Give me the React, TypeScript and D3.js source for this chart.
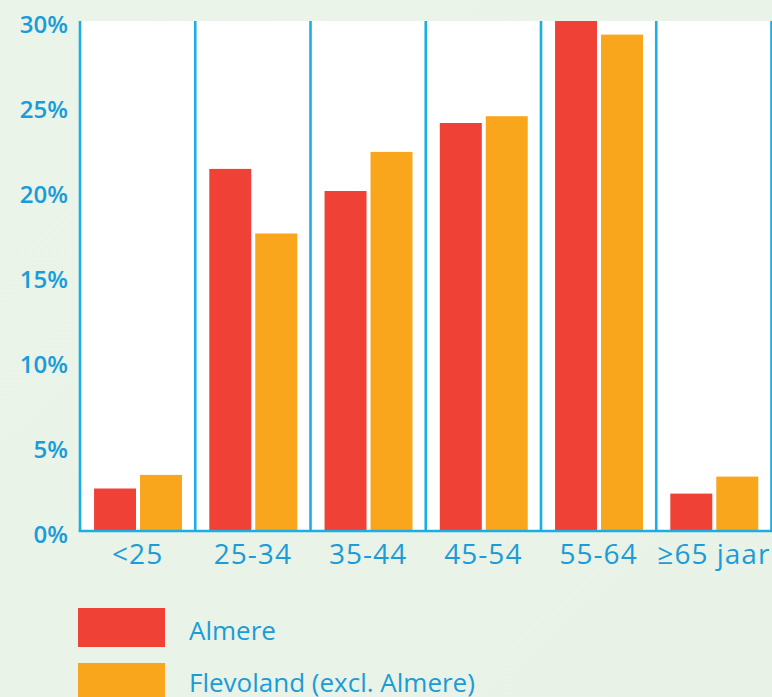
import { FC } from "react";
import * as d3 from "d3";

const WIDTH = 772;
const HEIGHT = 697;
const BLUE = "#1a9cd8";
const LINE = "#19aee6";

const categories = ["<25", "25-34", "35-44", "45-54", "55-64", "≥65 jaar"];
const series = ["Almere", "Flevoland (excl. Almere)"];
const colors = ["#ef4136", "#f9a61c"];
const almere = [2.5, 21.3, 20.0, 24.0, 30.2, 2.2];
const flevoland = [3.3, 17.5, 22.3, 24.4, 29.2, 3.2];
const yTicks = [0, 5, 10, 15, 20, 25, 30];

const margin = { top: 21, left: 80, bottom: 531, right: 771.5 };

const App: FC = () => {
  const values = [almere, flevoland];

  const x0 = d3
    .scaleBand<string>()
    .domain(categories)
    .range([margin.left, margin.right])
    .padding(0);

  const x1 = d3
    .scaleBand<string>()
    .domain(series)
    .range([x0.bandwidth() * 0.122, x0.bandwidth() * 0.885])
    .paddingInner(0.087);

  const y = d3.scaleLinear().domain([0, 30]).range([margin.bottom, margin.top]);

  return (
    <svg
      width={WIDTH}
      height={HEIGHT}
      style={{ position: "absolute", left: 0, top: 0 }}
      fontFamily="'Open Sans', 'DejaVu Sans', sans-serif"
    >
      <defs>
        <linearGradient id="bg" x1="0" y1="0" x2="1" y2="1">
          <stop offset="0%" stopColor="#eaf4e9" />
          <stop offset="100%" stopColor="#e8f2e6" />
        </linearGradient>
        <clipPath id="plot">
          <rect x={margin.left} y={margin.top} width={WIDTH} height={margin.bottom - margin.top} />
        </clipPath>
      </defs>
      <rect width={WIDTH} height={HEIGHT} fill="url(#bg)" />
      <rect
        x={margin.left}
        y={margin.top}
        width={WIDTH - margin.left}
        height={margin.bottom - margin.top}
        fill="#ffffff"
      />

      <g clipPath="url(#plot)">
        {categories.map((c, i) =>
          series.map((s, j) => {
            const v = values[j][i];
            const top = y(v);
            return (
              <rect
                key={c + s}
                x={(x0(c) ?? 0) + (x1(s) ?? 0)}
                y={top}
                width={x1.bandwidth()}
                height={margin.bottom - top}
                fill={colors[j]}
              />
            );
          })
        )}
      </g>

      {/* group separators */}
      {categories.map((c) => (
        <line
          key={"sep" + c}
          x1={x0(c)}
          x2={x0(c)}
          y1={margin.top}
          y2={margin.bottom}
          stroke={LINE}
          strokeWidth={2.6}
        />
      ))}
      <line
        x1={margin.right}
        x2={margin.right}
        y1={margin.top}
        y2={margin.bottom}
        stroke={LINE}
        strokeWidth={2.6}
      />
      <line
        x1={margin.left - 1.3}
        x2={WIDTH}
        y1={margin.bottom}
        y2={margin.bottom}
        stroke={LINE}
        strokeWidth={2.6}
      />

      {/* y axis labels */}
      {yTicks.map((t) => (
        <text
          key={"y" + t}
          x={68}
          y={y(t) + 12}
          textAnchor="end"
          fontSize={24}
          fontWeight={600}
          fill={BLUE}
        >
          {t + "%"}
        </text>
      ))}

      {/* x axis labels */}
      {categories.map((c) => (
        <text
          key={"x" + c}
          x={(x0(c) ?? 0) + x0.bandwidth() / 2}
          y={564}
          textAnchor="middle"
          fontSize={28}
          letterSpacing={1}
          fill={BLUE}
        >
          {c}
        </text>
      ))}

      {/* legend */}
      {series.map((s, j) => (
        <g key={"leg" + s} transform={`translate(78, ${608 + j * 55})`}>
          <rect width={87} height={39} fill={colors[j]} />
          <text x={111} y={32 - j * 3} fontSize={26} fill={BLUE}>
            {s}
          </text>
        </g>
      ))}
    </svg>
  );
};

export default App;
